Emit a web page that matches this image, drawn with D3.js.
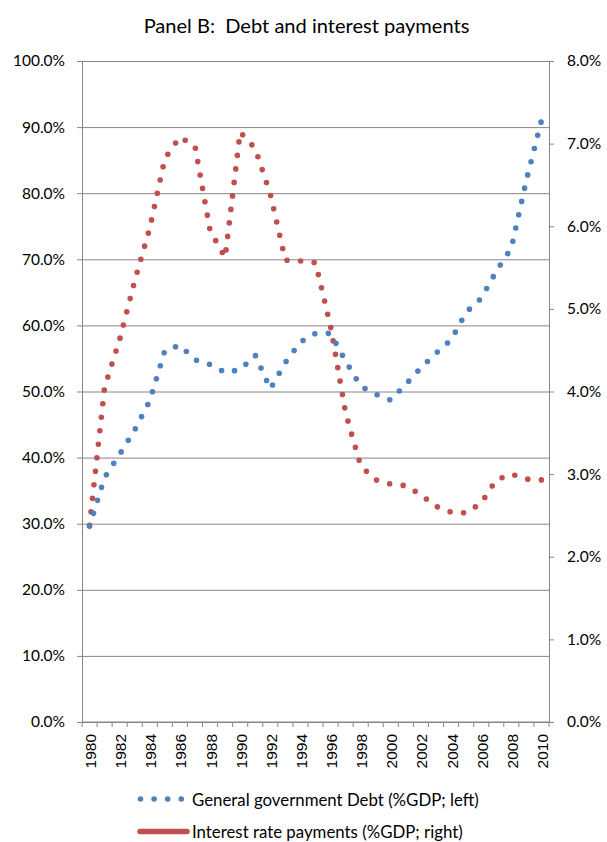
<!DOCTYPE html>
<html>
<head>
<meta charset="utf-8">
<script src="https://cdn.jsdelivr.net/npm/d3@7"></script>
<style>
  html, body { margin: 0; padding: 0; background: #fff; }
  svg { display: block; }
</style>
</head>
<body>
<svg id="chart" width="607" height="842"></svg>
<script>
// ---- data ----
const years = [1980,1981,1982,1983,1984,1985,1986,1987,1988,1989,1990,1991,1992,1993,1994,1995,
               1996,1997,1998,1999,2000,2001,2002,2003,2004,2005,2006,2007,2008,2009,2010];
const debt = [29.6,37.0,40.5,44.2,48.6,56.2,57.0,54.8,54.1,52.9,53.3,55.5,50.4,54.4,57.5,58.8,
              58.8,54.6,50.8,49.6,48.7,51.1,53.6,55.8,57.8,62.0,64.1,68.2,71.7,82.0,91.0];
const interest = [2.38,4.05,4.63,5.34,5.98,6.82,7.08,6.97,5.95,5.62,7.14,6.94,6.39,5.59,5.58,5.56,
                  4.79,3.74,3.10,2.93,2.88,2.86,2.75,2.61,2.54,2.53,2.65,2.93,3.00,2.94,2.93];
const leftTicks = [0,10,20,30,40,50,60,70,80,90,100];
const rightTicks = [0,1,2,3,4,5,6,7,8];
const yearLabels = [1980,1982,1984,1986,1988,1990,1992,1994,1996,1998,2000,2002,2004,2006,2008,2010];
const titleText = "Panel B:  Debt and interest payments";
const seriesNames = ["General government Debt (%GDP; left)", "Interest rate payments (%GDP; right)"];

// ---- layout ----
const L = 82, R = 549, T = 61, B = 722;
const blue = "#4F81BD", red = "#C0504D", grey = "#868686";
const svg = d3.select("#chart");

const x = d3.scaleBand().domain(years).range([L, R]).paddingInner(0).paddingOuter(0);
const cx = d => x(d) + x.bandwidth() / 2;
const yL = d3.scaleLinear().domain([0, 100]).range([B, T]);
const yR = d3.scaleLinear().domain([0, 8]).range([B, T]);

function fitWidth(sel, target) {
  const fs = parseFloat(sel.attr("font-size"));
  const w = sel.node().getComputedTextLength();
  sel.attr("font-size", fs * target / w);
}

// title
const title = svg.append("text").attr("x", 306.5).attr("y", 33)
  .attr("text-anchor", "middle").attr("font-family", "Lato").attr("font-size", 20)
  .style("white-space", "pre")
  .attr("fill", "#000").text(titleText);
fitWidth(title, 326);

// gridlines
svg.append("g").attr("transform", `translate(${L},0)`)
  .call(d3.axisLeft(yL).tickValues(leftTicks).tickSize(-(R - L)).tickFormat(""))
  .call(g => g.select(".domain").remove())
  .call(g => g.selectAll(".tick line").attr("stroke", grey).attr("stroke-width", 1));

// left axis
svg.append("g").attr("transform", `translate(${L},0)`)
  .call(d3.axisLeft(yL).tickValues(leftTicks).tickSize(5).tickSizeOuter(0).tickPadding(12)
        .tickFormat(d => d.toFixed(1) + "%"))
  .call(g => g.select(".domain").attr("stroke", grey))
  .call(g => g.selectAll(".tick line").attr("stroke", grey))
  .call(g => g.selectAll(".tick text").attr("font-family", "Lato").attr("font-size", 15.5).attr("fill", "#000"));

// right axis
svg.append("g").attr("transform", `translate(${R},0)`)
  .call(d3.axisRight(yR).tickValues(rightTicks).tickSize(5).tickSizeOuter(0).tickPadding(13)
        .tickFormat(d => d.toFixed(1) + "%"))
  .call(g => g.select(".domain").attr("stroke", grey))
  .call(g => g.selectAll(".tick line").attr("stroke", grey))
  .call(g => g.selectAll(".tick text").attr("font-family", "Lato").attr("font-size", 15.5).attr("fill", "#000"));

// bottom axis line + boundary ticks
const bounds = years.map(d => x(d)).concat([x(years[years.length - 1]) + x.bandwidth()]);
svg.append("line").attr("x1", L).attr("x2", R).attr("y1", yL(0)).attr("y2", yL(0)).attr("stroke", grey);
svg.append("g").selectAll("line").data(bounds).join("line")
  .attr("x1", d => d).attr("x2", d => d).attr("y1", yL(0)).attr("y2", yL(0) + 5).attr("stroke", grey);

// year labels
svg.append("g").selectAll("text").data(yearLabels).join("text")
  .attr("transform", d => `translate(${cx(d) + 1},${yL(0) + 12}) rotate(-90)`)
  .attr("text-anchor", "end").attr("dominant-baseline", "central")
  .attr("font-family", "Liberation Sans").attr("font-size", 15.5).attr("fill", "#000")
  .text(d => d);

// series
const lineDebt = d3.line().x((d, i) => cx(years[i])).y(d => yL(d));
const lineInt = d3.line().x((d, i) => cx(years[i])).y(d => yR(d));
const dotStyle = sel => sel.attr("fill", "none").attr("stroke-width", 5.6)
  .attr("stroke-linecap", "round").attr("stroke-linejoin", "round").attr("stroke-dasharray", "0 13.6");

svg.append("path").datum(interest).attr("d", lineInt).attr("stroke", red).call(dotStyle);
svg.append("path").datum(debt).attr("d", lineDebt).attr("stroke", blue).call(dotStyle);

// legend
const lg = svg.append("g");
lg.append("line").attr("x1", 140.5).attr("x2", 181.5).attr("y1", 799).attr("y2", 799)
  .attr("stroke", blue).attr("stroke-width", 5.6).attr("stroke-linecap", "round")
  .attr("stroke-dasharray", "0 13.6");
lg.append("line").attr("x1", 140).attr("x2", 187).attr("y1", 831.5).attr("y2", 831.5)
  .attr("stroke", red).attr("stroke-width", 5.5).attr("stroke-linecap", "round");
const t1 = lg.append("text").attr("x", 192).attr("y", 799).attr("dominant-baseline", "central")
  .attr("font-family", "Lato").attr("font-size", 16).attr("fill", "#000").text(seriesNames[0]);
const t2 = lg.append("text").attr("x", 192).attr("y", 831.5).attr("dominant-baseline", "central")
  .attr("font-family", "Lato").attr("font-size", 16).attr("fill", "#000").text(seriesNames[1]);
fitWidth(t1, 287);
t2.attr("font-size", t1.attr("font-size"));
</script>
</body>
</html>
